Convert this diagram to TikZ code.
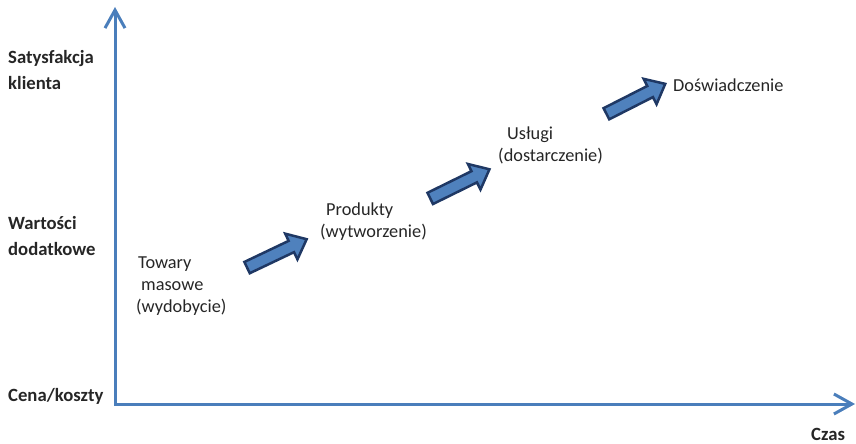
\documentclass[tikz,border=0pt]{standalone}
\usepackage{fontspec}
\setmainfont{Carlito}
\usetikzlibrary{arrows.meta,shapes.arrows,positioning}
\definecolor{axisblue}{HTML}{4A7EBB}
\definecolor{stepfill}{HTML}{4F81BD}
\definecolor{stepline}{HTML}{1F3864}
\definecolor{textgray}{HTML}{262626}
\tikzset{>={Straight Barb[length=18pt,width=20pt]}}
\tikzset{axis/.style={draw=axisblue, line width=3pt}}
\tikzset{stepbox/.style={shape=single arrow, draw=stepline, fill=stepfill,
    line width=2.5pt, inner sep=0pt, inner ysep=5pt, minimum height=66pt,
    single arrow head extend=8pt, single arrow tip angle=80}}
\tikzset{axistext/.style={font=\fontsize{18.7}{26}\selectfont\bfseries,
    text=textgray, align=left, inner sep=0pt}}
\tikzset{stagetext/.style={font=\fontsize{18.3}{22}\selectfont,
    text=textgray, align=left, inner sep=0pt}}

\begin{document}
\begin{tikzpicture}[x=1pt, y=-1pt]
    \useasboundingbox (0,0) rectangle (856,444);
    \coordinate (origin) at (115,404);
    \coordinate (ytop) at (115,7);
    \coordinate (xend) at (855,404);
    \coordinate (tail1) at (242,270);
    \coordinate (tip1) at (305,240);
    \coordinate (tail2) at (425,201);
    \coordinate (tip2) at (488,170);
    \coordinate (tail3) at (602,116);
    \coordinate (tip3) at (663,85);

    \draw[axis, <->] (ytop) -- (origin) -- (xend);

    % base anchor = baseline of the last line
    \node[axistext, anchor=base west] (satysfakcja) at (8,89)
    {Satysfakcja\\klienta};
    \node[axistext, anchor=base west] (wartosci) at (8,255)
    {Wartości\\dodatkowe};
    \node[axistext, anchor=base west] (cena) at (8,401) {Cena/koszty};
    \node[axistext, anchor=base west] (czas) at (811,440) {Czas};

    \node[stagetext, anchor=base west] (towary) at (136,312)
    {\hspace*{2pt}Towary\\\hspace*{5pt}masowe\\(wydobycie)};
    \node[stagetext, anchor=base west] (produkty) at (320,237)
    {\hspace*{6pt}Produkty\\(wytworzenie)};
    \node[stagetext, anchor=base west] (uslugi) at (498,161)
    {\hspace*{9pt}Usługi\\(dostarczenie)};
    \node[stagetext, anchor=base west] (doswiadczenie) at (673,91)
    {Doświadczenie};

    \foreach \i in {1,2,3}
    \path (tail\i) -- (tip\i) node[stepbox, midway, sloped] {};
  \end{tikzpicture}
\end{document}
